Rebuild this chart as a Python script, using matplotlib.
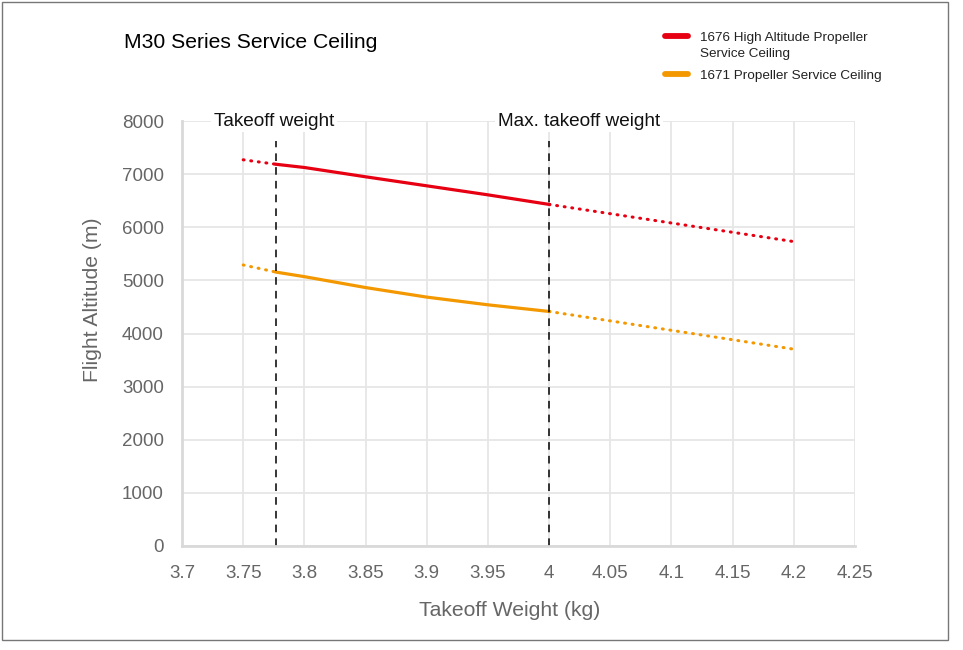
import matplotlib
matplotlib.use("Agg")
import matplotlib.pyplot as plt
from matplotlib.patches import Rectangle
from matplotlib.lines import Line2D

plt.rcParams['font.family'] = ['Liberation Sans', 'DejaVu Sans']

# Data
x_solid = [3.777, 3.8, 3.85, 3.9, 3.95, 4.0]
red_solid = [7185, 7125, 6950, 6780, 6610, 6430]
orange_solid = [5155, 5070, 4865, 4685, 4540, 4415]

x_pre = [3.75, 3.777]
red_pre = [7270, 7185]
orange_pre = [5290, 5155]

x_post = [4.0, 4.2]
red_post = [6430, 5730]
orange_post = [4415, 3705]

takeoff_weight = 3.777
max_takeoff_weight = 4.0

xticks = [3.7, 3.75, 3.8, 3.85, 3.9, 3.95, 4.0, 4.05, 4.1, 4.15, 4.2, 4.25]
xtick_labels = ["3.7", "3.75", "3.8", "3.85", "3.9", "3.95", "4", "4.05", "4.1", "4.15", "4.2", "4.25"]
yticks = [0, 1000, 2000, 3000, 4000, 5000, 6000, 7000, 8000]

label_red = "1676 High Altitude Propeller\nService Ceiling"
label_orange = "1671 Propeller Service Ceiling"

RED = "#E60012"
ORANGE = "#F39800"
GRID = "#e6e6e6"
TXT = "#666666"

W, H = 963, 650
fig = plt.figure(figsize=(W/100, H/100), dpi=100)
ax = fig.add_axes([182/W, 1-546/H, (855-182)/W, (546-121)/H])

ax.set_xlim(3.7, 4.25)
ax.set_ylim(0, 8000)
ax.set_xticks(xticks)
ax.set_xticklabels(xtick_labels)
ax.set_yticks(yticks)
ax.grid(True, color=GRID, linewidth=1.3)
ax.set_axisbelow(True)
for s in ['top', 'right']:
    ax.spines[s].set_visible(False)
for s in ['left', 'bottom']:
    ax.spines[s].set_color("#d9d9d9")
    ax.spines[s].set_linewidth(2)
ax.tick_params(length=0, labelsize=13.5, labelcolor=TXT)
ax.tick_params(axis='x', pad=14)
ax.tick_params(axis='y', pad=13)

dot = (0, (0.3, 2.2))
ax.plot(x_pre, red_pre, color=RED, lw=2.2, linestyle=dot, dash_capstyle='round')
ax.plot(x_post, red_post, color=RED, lw=2.2, linestyle=dot, dash_capstyle='round')
ax.plot(x_pre, orange_pre, color=ORANGE, lw=2.2, linestyle=dot, dash_capstyle='round')
ax.plot(x_post, orange_post, color=ORANGE, lw=2.2, linestyle=dot, dash_capstyle='round')
ax.plot(x_solid, red_solid, color=RED, lw=2.3)
ax.plot(x_solid, orange_solid, color=ORANGE, lw=2.3)

for xv in [takeoff_weight, max_takeoff_weight]:
    ax.plot([xv, xv], [0, 7620], color="black", lw=1.1, linestyle=(0, (5, 4)))

ax.text(3.726, 8000, "Takeoff weight", ha='left', va='center', fontsize=13.7,
        color="#111111", bbox=dict(facecolor='white', edgecolor='none', pad=2))
ax.text(3.958, 8000, "Max. takeoff weight", ha='left', va='center', fontsize=13.7,
        color="#111111", bbox=dict(facecolor='white', edgecolor='none', pad=2))

ax.set_xlabel("Takeoff Weight (kg)", fontsize=15.2, color=TXT)
ax.xaxis.set_label_coords((510-182)/673, -(610-546)/425, transform=ax.transAxes)
ax.xaxis.label.set_va('center')
ax.set_ylabel("Flight Altitude (m)", fontsize=15.2, color=TXT)
ax.yaxis.set_label_coords(-(182-92)/673, (546-300)/425, transform=ax.transAxes)
ax.yaxis.label.set_va('center')

fig.text(124/W, 1-43/H, "M30 Series Service Ceiling", fontsize=15.2, color="black", va='center', ha='left')

# Legend drawn manually
leg_items = [(label_red, RED, 36), (label_orange, ORANGE, 74)]
for lab, col, ypx in leg_items:
    fig.add_artist(Line2D([665/W, 688/W], [1-ypx/H, 1-ypx/H], transform=fig.transFigure,
                          color=col, lw=4.2, solid_capstyle='round'))
    fig.text(700/W, 1-(ypx-4)/H, lab, fontsize=9.7, color="#222222", ha='left', va='top',
             linespacing=1.45)

fig.patches.append(Rectangle((2/W, 1-640/H), (948-2)/W, (640-2)/H,
                             transform=fig.transFigure, fill=False, edgecolor="#777777", lw=1))

fig.savefig("out.png", dpi=100)
